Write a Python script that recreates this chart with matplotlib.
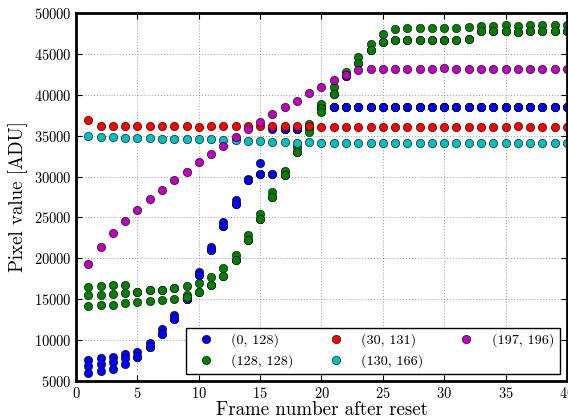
import numpy as np
import matplotlib
matplotlib.use("Agg")
import matplotlib.pyplot as plt

plt.rcParams['font.family'] = 'serif'
plt.rcParams['font.serif'] = ['cmr10', 'DejaVu Serif']
plt.rcParams['mathtext.fontset'] = 'cm'
plt.rcParams['axes.formatter.use_mathtext'] = True

frames = np.arange(1, 41)

# (0, 128) - three readings per frame
blue_hi = [7530, 7810, 7970, 8340, 8590, 9690, 11320, 13070, 15030, 18370,
           21350, 24400, 27130, 29660, 31620, 35770, 35770, 35770, 36000, 38540,
           38540, 38540, 38540, 38540, 38540, 38540, 38540, 38540, 38540, 38540,
           38540, 38540, 38540, 38540, 38540, 38540, 38540, 38540, 38540, 38540]
blue_mid = [6830, 7040, 7320, 7770, 7970, 9160, 10790, 12580, 15030, 17960,
            21020, 23950, 26600, 29580, 30300, 30300, 35770, 35770, 36000, 38540,
            38540, 38540, 38540, 38540, 38540, 38540, 38540, 38540, 38540, 38540,
            38540, 38540, 38540, 38540, 38540, 38540, 38540, 38540, 38540, 38540]
blue_lo = [5940, 6180, 6430, 7080, 7970, 9160, 10790, 12580, 15030, 17960,
           21020, 23950, 26600, 29580, 30300, 30300, 35770, 35770, 36000, 38540,
           38540, 38540, 38540, 38540, 38540, 38540, 38540, 38540, 38540, 38540,
           38540, 38540, 38540, 38540, 38540, 38540, 38540, 38540, 38540, 38540]

# (128, 128)
green_hi = [16530, 16620, 16700, 16780, 15880, 16090, 16170, 16330, 16620, 17020,
            17750, 18820, 20370, 22850, 25420, 28150, 30680, 33570, 36430, 38870,
            40910, 42820, 44660, 46210, 47470, 48000, 48160, 48160, 48160, 48160,
            48160, 48240, 48400, 48450, 48500, 48400, 48500, 48500, 48500, 48500]
green_mid = [15480, 15510, 15680, 15800, 15880, 16090, 16170, 16330, 15500, 15880,
             16740, 17880, 19800, 22240, 24810, 27540, 30190, 33040, 35900, 38340,
             40060, 42290, 43850, 45470, 46420, 46700, 46700, 46700, 46700, 46700,
             46700, 46850, 47750, 47750, 47750, 47700, 47750, 47750, 47750, 47750]
green_lo = [14170, 14290, 14290, 14570, 14660, 14740, 14940, 15060, 15300, 15880,
            16740, 17880, 19800, 22240, 24810, 27540, 30190, 33040, 35480, 37930,
            40060, 42290, 43850, 45470, 46420, 46700, 46700, 46700, 46700, 46700,
            46700, 46850, 47750, 47750, 47750, 47700, 47750, 47750, 47750, 47750]

# (30, 131)
red = [36900, 36180, 36180, 36180, 36180, 36180, 36180, 36180, 36150, 36100,
       36180, 36150, 36150, 36200, 36200, 36150, 36150, 36150, 36200, 36100,
       36100, 36100, 36100, 36100, 36100, 36100, 36100, 36100, 36100, 36100,
       36100, 36100, 36100, 36100, 36100, 36150, 36100, 36100, 36100, 36100]

# (130, 166)
cyan = [34960, 34800, 34800, 34710, 34710, 34710, 34630, 34630, 34550, 34550,
        34550, 34470, 34470, 34400, 34300, 34250, 34200, 34150, 34200, 34150,
        34150, 34150, 34150, 34150, 34150, 34150, 34150, 34100, 34150, 34150,
        34150, 34100, 34150, 34150, 34150, 34150, 34150, 34150, 34150, 34150]

# (197, 196)
magenta = [19270, 21385, 23100, 24600, 25870, 27200, 28390, 29540, 30600, 31740,
           32720, 33740, 34790, 35770, 36700, 37650, 38460, 39270, 40180, 40910,
           41810, 42420, 42990, 43190, 43190, 43190, 43190, 43190, 43190, 43300,
           43190, 43190, 43190, 43190, 43190, 43190, 43190, 43190, 43190, 43190]

fig = plt.figure(figsize=(5.68, 4.2), dpi=100)
ax = fig.add_axes([0.134, 0.093, 0.864, 0.876])

mk = dict(linestyle='none', marker='o', markersize=6, markeredgecolor='k',
          markeredgewidth=0.4)
ax.plot(frames, blue_hi, color='b', label='(0, 128)', **mk)
ax.plot(frames, blue_mid, color='b', **mk)
ax.plot(frames, blue_lo, color='b', **mk)
ax.plot(frames, green_hi, color='g', label='(128, 128)', **mk)
ax.plot(frames, green_mid, color='g', **mk)
ax.plot(frames, green_lo, color='g', **mk)
ax.plot(frames, red, color='r', label='(30, 131)', **mk)
ax.plot(frames, cyan, color='c', label='(130, 166)', **mk)
ax.plot(frames, magenta, color='m', label='(197, 196)', **mk)

ax.set_xlim(0, 40)
ax.set_ylim(5000, 50000)
ax.set_xticks(range(0, 41, 5))
ax.set_yticks(range(5000, 50001, 5000))
ax.set_axisbelow(True)
ax.grid(True, linestyle=(0, (1, 2)), color='0.6', linewidth=0.7)
ax.tick_params(direction='in', length=4, labelsize=10.4, top=True, right=True)
for s in ax.spines.values():
    s.set_linewidth(2)

ax.set_xlabel('Frame number after reset', fontsize=13.6, labelpad=0)
ax.set_ylabel('Pixel value [ADU]', fontsize=13.6, labelpad=4)

leg = ax.legend(loc='lower right', ncol=3, numpoints=1, fontsize=10.2,
                fancybox=False, framealpha=1, edgecolor='k',
                borderaxespad=0.5, columnspacing=2.0)
leg.get_frame().set_linewidth(1.0)

fig.savefig('out.png', dpi=100)
